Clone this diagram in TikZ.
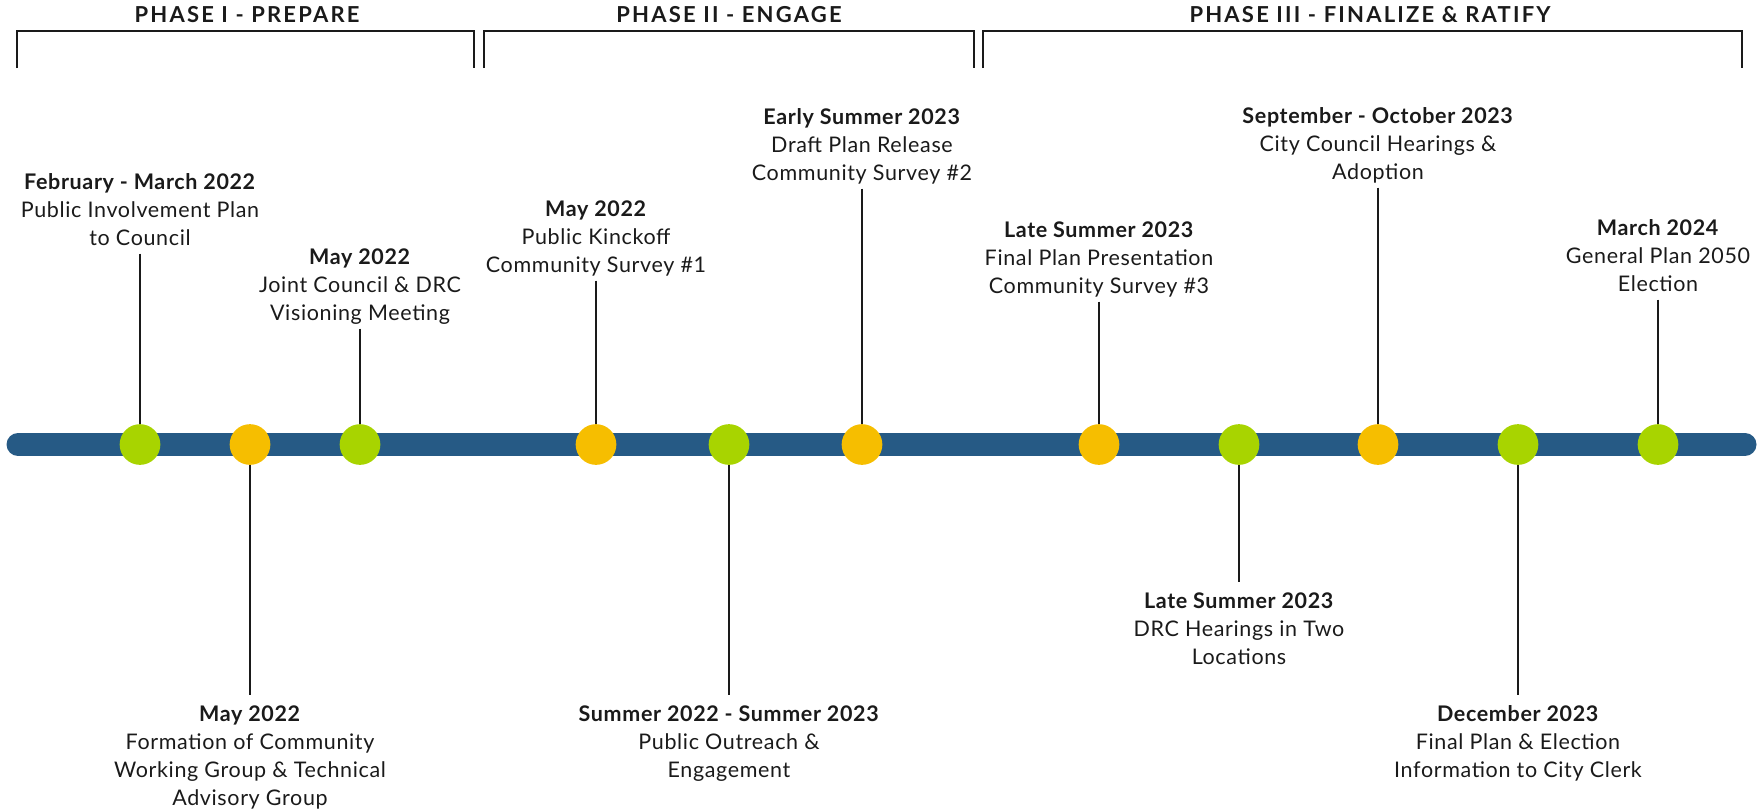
\documentclass[tikz,border=0pt]{standalone}
\usepackage{fontspec}
\setmainfont{Lato}[LetterSpace=3]
\newfontfamily\phasefont{Lato}[LetterSpace=10]
\usetikzlibrary{calc}
\definecolor{barblue}{HTML}{265A85}
\definecolor{dotgreen}{HTML}{A8D400}
\definecolor{dotorange}{HTML}{F6BE00}
\definecolor{ink}{HTML}{1A1A1A}
\newcommand{\evlab}[2]{\begin{tabular}[t]{@{}c@{}}\textbf{#1}\\#2\end{tabular}}
\begin{document}
\begin{tikzpicture}[x=1pt,y=-1pt,
  dot/.style={circle, minimum size=40.7pt, inner sep=0pt},
  gdot/.style={dot, fill=dotgreen},
  odot/.style={dot, fill=dotorange},
  lab/.style={anchor=base, inner sep=0pt, text=ink, font=\fontsize{21.5}{28}\selectfont},
  stem/.style={draw=ink, line width=2pt},
  bracket/.style={draw=ink, line width=2pt},
  phase/.style={anchor=base, inner sep=0pt, text=ink, font=\phasefont\fontsize{22}{26}\selectfont\bfseries},
  bar/.style={draw=barblue, line width=23pt, line cap=round}]
\useasboundingbox (0,0) rectangle (1758,811);

% phase titles and brackets
\node[phase] (p1) at (247,23) {PHASE I - PREPARE};
\node[phase] (p2) at (729,23) {PHASE II - ENGAGE};
\node[phase] (p3) at (1370,23) {PHASE III - FINALIZE \& RATIFY};
\draw[bracket] (17,68) -- (17,31) -- (474,31) -- (474,68);
\draw[bracket] (484,68) -- (484,31) -- (974,31) -- (974,68);
\draw[bracket] (983,68) -- (983,31) -- (1742,31) -- (1742,68);

% timeline bar
\coordinate (barL) at (18,444.5);
\coordinate (barR) at (1745,444.5);
\draw[bar] (barL) -- (barR);

% labels above
\node[lab] (u1) at (140,189) {\evlab{February - March 2022}{Public Involvement Plan\\to Council}};
\node[lab] (u2) at (360,264) {\evlab{May 2022}{Joint Council \& DRC\\Visioning Meeting}};
\node[lab] (u3) at (596,216) {\evlab{May 2022}{Public Kinckoff\\Community Survey \#1}};
\node[lab] (u4) at (862,124) {\evlab{Early Summer 2023}{Draft Plan Release\\Community Survey \#2}};
\node[lab] (u5) at (1099,237) {\evlab{Late Summer 2023}{Final Plan Presentation\\Community Survey \#3}};
\node[lab] (u6) at (1378,123) {\evlab{September - October 2023}{City Council Hearings \&\\Adoption}};
\node[lab] (u7) at (1658,235) {\evlab{March 2024}{General Plan 2050\\Election}};

% labels below
\node[lab] (l1) at (250,721) {\evlab{May 2022}{Formation of Community\\Working Group \& Technical\\Advisory Group}};
\node[lab] (l2) at (729,721) {\evlab{Summer 2022 - Summer 2023}{Public Outreach \&\\Engagement}};
\node[lab] (l3) at (1239,608) {\evlab{Late Summer 2023}{DRC Hearings in Two\\Locations}};
\node[lab] (l4) at (1518,721) {\evlab{December 2023}{Final Plan \& Election\\Information to City Clerk}};

% dot positions
\coordinate (c1) at (140,444.5);
\coordinate (c2) at (250,444.5);
\coordinate (c3) at (360,444.5);
\coordinate (c4) at (596,444.5);
\coordinate (c5) at (729,444.5);
\coordinate (c6) at (862,444.5);
\coordinate (c7) at (1099,444.5);
\coordinate (c8) at (1239,444.5);
\coordinate (c9) at (1378,444.5);
\coordinate (c10) at (1518,444.5);
\coordinate (c11) at (1658,444.5);

% stems
\draw[stem] (u1.south) -- (c1);
\draw[stem] (u2.south) -- (c3);
\draw[stem] (u3.south) -- (c4);
\draw[stem] (u4.south) -- (c6);
\draw[stem] (u5.south) -- (c7);
\draw[stem] (u6.south) -- (c9);
\draw[stem] (u7.south) -- (c11);
\draw[stem] (c2) -- ($(l1.north)+(0,-6)$);
\draw[stem] (c5) -- ($(l2.north)+(0,-6)$);
\draw[stem] (c8) -- ($(l3.north)+(0,-6)$);
\draw[stem] (c10) -- ($(l4.north)+(0,-6)$);

% dots
\node[gdot] (d1) at (c1) {};
\node[odot] (d2) at (c2) {};
\node[gdot] (d3) at (c3) {};
\node[odot] (d4) at (c4) {};
\node[gdot] (d5) at (c5) {};
\node[odot] (d6) at (c6) {};
\node[odot] (d7) at (c7) {};
\node[gdot] (d8) at (c8) {};
\node[odot] (d9) at (c9) {};
\node[gdot] (d10) at (c10) {};
\node[gdot] (d11) at (c11) {};
\end{tikzpicture}
\end{document}
